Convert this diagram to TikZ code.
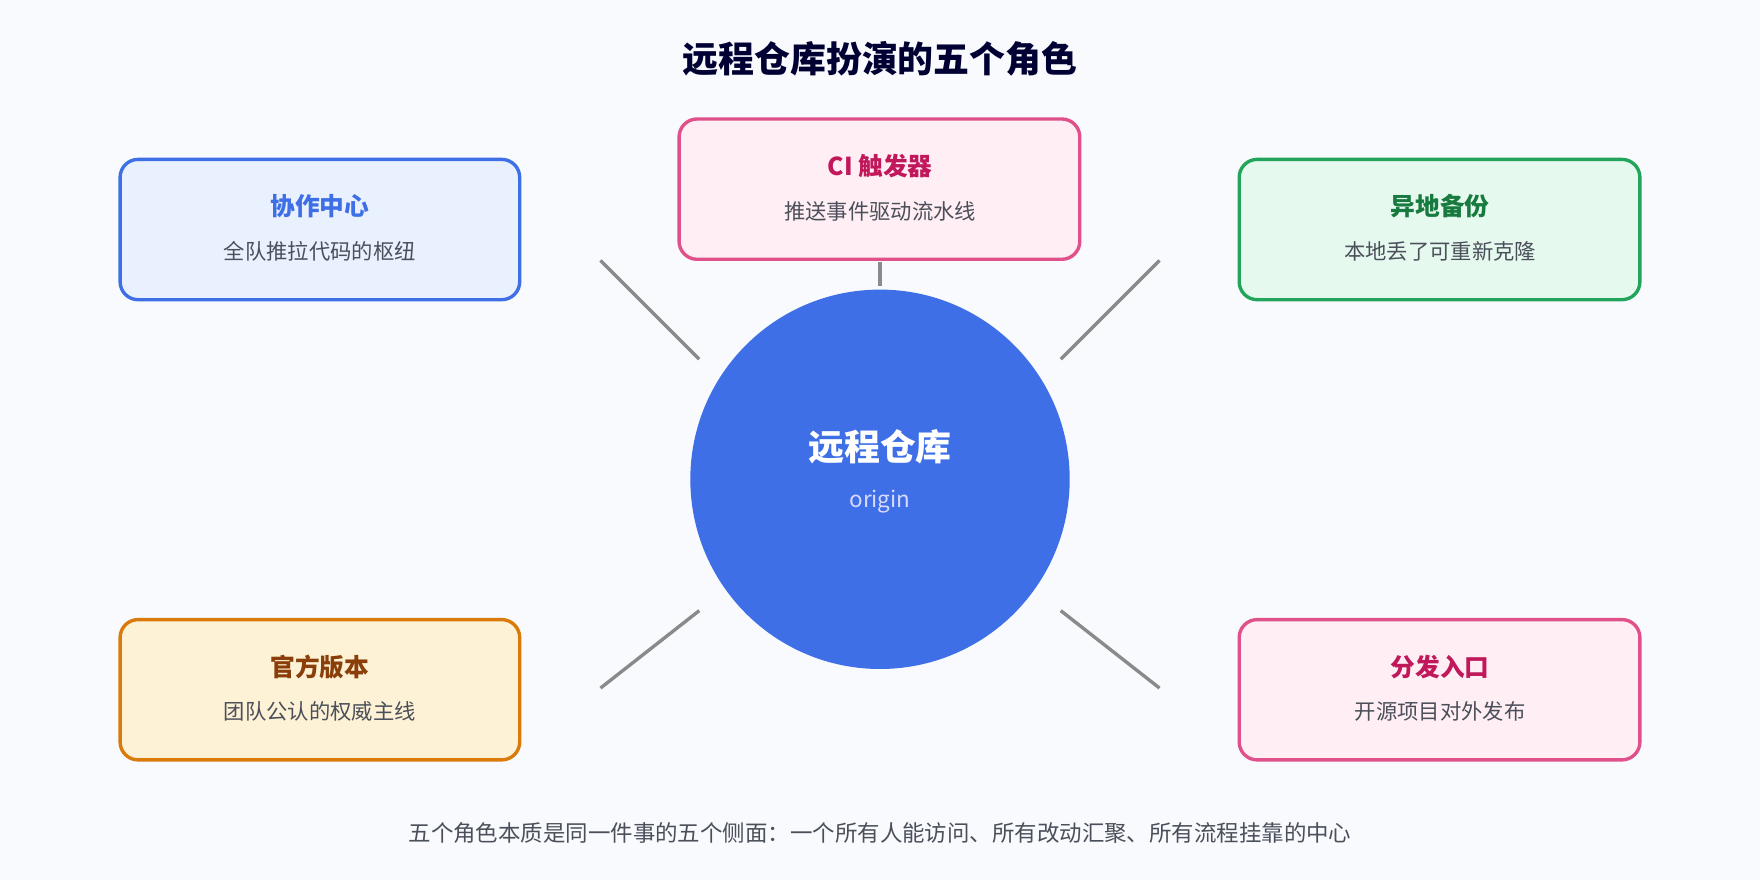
\documentclass[tikz,border=0pt]{standalone}
\usepackage{fontspec}
\setmainfont{Noto Sans CJK SC}
\begin{document}
\begin{tikzpicture}[x=1pt,y=-1pt,
 box/.style={draw=#1,line width=3pt,rounded corners=16pt},
 ttl/.style={font=\fontsize{22}{26}\selectfont\bfseries},
 sub/.style={font=\fontsize{19}{23}\selectfont,text=subc},
 link/.style={draw=linkc,line width=3pt}]
\definecolor{bg}{HTML}{F8FAFD}
\definecolor{subc}{HTML}{4A4F5A}
\definecolor{linkc}{HTML}{8A8A8A}
\definecolor{blu}{HTML}{3E6FE6}\definecolor{bluf}{HTML}{EAF1FE}
\definecolor{pnk}{HTML}{E0508A}\definecolor{pnkf}{HTML}{FFEEF3}\definecolor{pnkt}{HTML}{C0185A}
\definecolor{grn}{HTML}{22A55A}\definecolor{grnf}{HTML}{E6F9EE}\definecolor{grnt}{HTML}{177A3E}
\definecolor{org}{HTML}{D97A0A}\definecolor{orgf}{HTML}{FEF2D6}\definecolor{orgt}{HTML}{8A3E0A}
\fill[bg] (0,0) rectangle (1568,784);
\node[font=\fontsize{32}{38}\selectfont\bfseries,text=black!80!blue] (title) at (784,52) {远程仓库扮演的五个角色};
\node[circle,fill=blu,minimum size=338pt] (c) at (784,427) {};
\node[font=\fontsize{32}{38}\selectfont\bfseries,text=white] (ct) at (784,398) {远程仓库};
\node[font=\fontsize{20}{24}\selectfont,text=white!85!blue] (co) at (784,447) {origin};
% boxes
\draw[box=blu,fill=bluf] (107,142) rectangle (463,267);
\node[ttl,text=blu] (t1) at (285,184) {协作中心};
\node[sub] (s1) at (285,224) {全队推拉代码的枢纽};
\draw[box=pnk,fill=pnkf] (605,106) rectangle (962,231);
\node[ttl,text=pnkt] (t2) at (784,148) {CI 触发器};
\node[sub] (s2) at (784,188) {推送事件驱动流水线};
\draw[box=grn,fill=grnf] (1104,142) rectangle (1461,267);
\node[ttl,text=grnt] (t3) at (1283,184) {异地备份};
\node[sub] (s3) at (1283,224) {本地丢了可重新克隆};
\draw[box=org,fill=orgf] (107,552) rectangle (463,677);
\node[ttl,text=orgt] (t4) at (285,594) {官方版本};
\node[sub] (s4) at (285,634) {团队公认的权威主线};
\draw[box=pnk,fill=pnkf] (1104,552) rectangle (1461,677);
\node[ttl,text=pnkt] (t5) at (1283,594) {分发入口};
\node[sub] (s5) at (1283,634) {开源项目对外发布};
% links
\coordinate (a1) at (535,232); \coordinate (b1) at (623,320);
\coordinate (a2) at (784,233); \coordinate (b2) at (784,255);
\coordinate (a3) at (1033,232); \coordinate (b3) at (945,320);
\coordinate (a4) at (535,613); \coordinate (b4) at (623,544);
\coordinate (a5) at (1033,613); \coordinate (b5) at (945,544);
\foreach \i in {1,...,5} \draw[link] (a\i) -- (b\i);
\node[font=\fontsize{20}{24}\selectfont,text=subc] (foot) at (784,742) {五个角色本质是同一件事的五个侧面：一个所有人能访问、所有改动汇聚、所有流程挂靠的中心};
\end{tikzpicture}
\end{document}
